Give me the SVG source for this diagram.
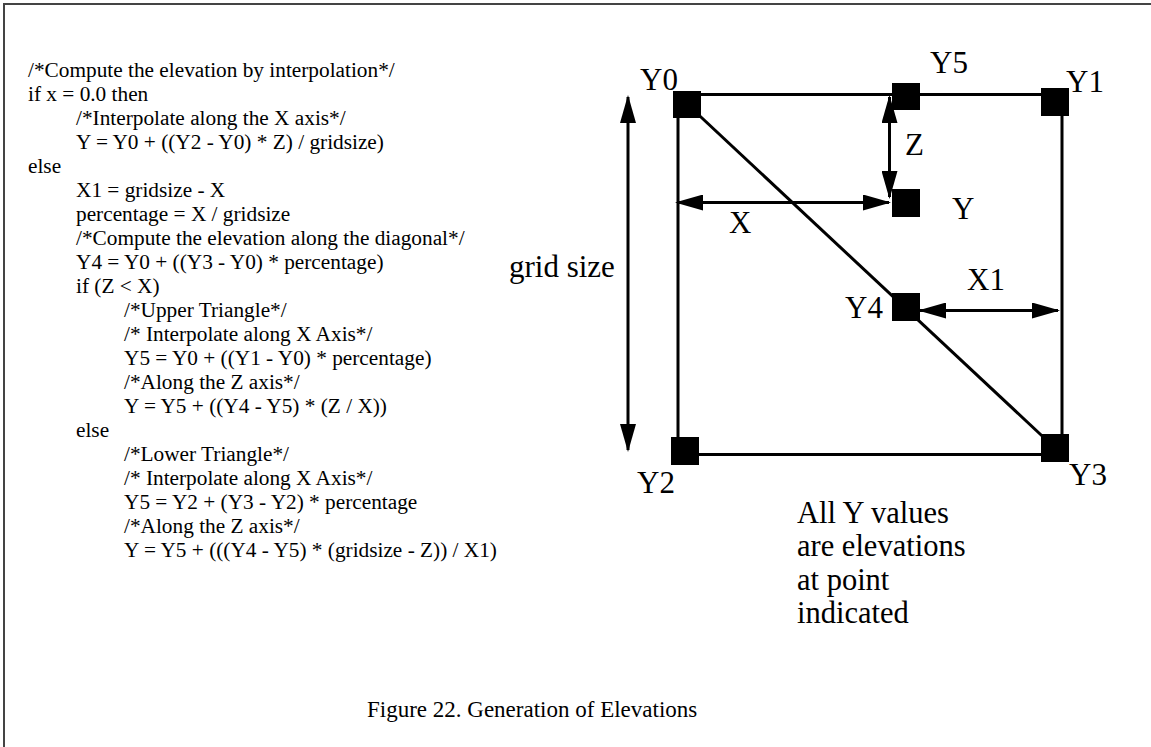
<svg xmlns="http://www.w3.org/2000/svg" width="1151" height="747" viewBox="0 0 1151 747">
  <style>
    .code { font-family: "Liberation Serif", Tinos, "Times New Roman", Times, "DejaVu Serif", serif; font-size: 21.3px; fill: #000; }
    .lbl { font-family: "Liberation Serif", Tinos, "Times New Roman", Times, "DejaVu Serif", serif; font-size: 31px; fill: #000; }
    .note { font-family: "Liberation Serif", Tinos, "Times New Roman", Times, "DejaVu Serif", serif; font-size: 30.5px; fill: #000; }
    .cap { font-family: "Liberation Serif", Tinos, "Times New Roman", Times, "DejaVu Serif", serif; font-size: 23px; fill: #000; }
    .ln { stroke: #000; stroke-width: 3; fill: none; }
    .arr { stroke: #000; stroke-width: 3; fill: none; marker-start: url(#ah); marker-end: url(#ah); }
    .sq { fill: #000; }
  </style>
  <defs>
    <marker id="ah" viewBox="0 0 28 16" refX="26" refY="8" markerWidth="28" markerHeight="16" markerUnits="userSpaceOnUse" orient="auto-start-reverse">
      <path d="M0,0 L28,8 L0,16 z" fill="#000"/>
    </marker>
  </defs>
  <rect x="0" y="0" width="1151" height="747" fill="#fff"/>
  <g id="frame" stroke="#444" stroke-width="2" fill="none">
    <line x1="3" y1="4" x2="1151" y2="4"/>
    <line x1="4" y1="3" x2="4" y2="747"/>
  </g>
  <g id="code" class="code">
    <text x="28" y="77">/*Compute the elevation by interpolation*/</text>
    <text x="28" y="101">if x = 0.0 then</text>
    <text x="76" y="125">/*Interpolate along the X axis*/</text>
    <text x="76" y="149">Y = Y0 + ((Y2 - Y0) * Z) / gridsize)</text>
    <text x="28" y="173">else</text>
    <text x="76" y="197">X1 = gridsize - X</text>
    <text x="76" y="221">percentage = X / gridsize</text>
    <text x="76" y="245">/*Compute the elevation along the diagonal*/</text>
    <text x="76" y="269">Y4 = Y0 + ((Y3 - Y0) * percentage)</text>
    <text x="76" y="293">if (Z &lt; X)</text>
    <text x="124" y="317">/*Upper Triangle*/</text>
    <text x="124" y="341">/* Interpolate along X Axis*/</text>
    <text x="124" y="365">Y5 = Y0 + ((Y1 - Y0) * percentage)</text>
    <text x="124" y="389">/*Along the Z axis*/</text>
    <text x="124" y="413">Y = Y5 + ((Y4 - Y5) * (Z / X))</text>
    <text x="76" y="437">else</text>
    <text x="124" y="461">/*Lower Triangle*/</text>
    <text x="124" y="485">/* Interpolate along X Axis*/</text>
    <text x="124" y="509">Y5 = Y2 + (Y3 - Y2) * percentage</text>
    <text x="124" y="533">/*Along the Z axis*/</text>
    <text x="124" y="557">Y = Y5 + (((Y4 - Y5) * (gridsize - Z)) / X1)</text>
  </g>
  <g id="connectors">
    <line class="ln" x1="687" y1="94.5" x2="1055" y2="94.5"/>
    <line class="ln" x1="678" y1="104" x2="678" y2="451"/>
    <line class="ln" x1="1062" y1="101" x2="1062" y2="448"/>
    <line class="ln" x1="685" y1="454.5" x2="1055" y2="454.5"/>
    <line class="ln" x1="687" y1="104" x2="1055" y2="448"/>
    <line class="arr" x1="628" y1="97" x2="628" y2="450"/>
    <line class="arr" x1="889.5" y1="97" x2="889.5" y2="197"/>
    <line class="arr" x1="677" y1="202.5" x2="889" y2="202.5"/>
    <line class="arr" x1="920" y1="310.5" x2="1058" y2="310.5"/>
  </g>
  <g id="node-Y0"><rect class="sq" x="673" y="91" width="28" height="27"/><text class="lbl" x="640" y="90">Y0</text></g>
  <g id="node-Y5"><rect class="sq" x="892" y="83" width="28" height="27"/><text class="lbl" x="930" y="73">Y5</text></g>
  <g id="node-Y1"><rect class="sq" x="1041" y="88" width="28" height="28"/><text class="lbl" x="1066" y="92">Y1</text></g>
  <g id="node-Y"><rect class="sq" x="892" y="189" width="28" height="28"/><text class="lbl" x="952" y="219">Y</text></g>
  <g id="node-Y4"><rect class="sq" x="892" y="293" width="28" height="28"/><text class="lbl" x="845" y="318">Y4</text></g>
  <g id="node-Y2"><rect class="sq" x="671" y="437" width="28" height="28"/><text class="lbl" x="637" y="493">Y2</text></g>
  <g id="node-Y3"><rect class="sq" x="1041" y="434" width="28" height="28"/><text class="lbl" x="1069" y="485">Y3</text></g>
  <g id="labels" class="lbl">
    <text x="905" y="155">Z</text>
    <text x="729" y="233">X</text>
    <text x="967" y="290">X1</text>
    <text x="509" y="277">grid size</text>
  </g>
  <g id="note" class="note">
    <text x="797" y="523">All Y values</text>
    <text x="797" y="556">are elevations</text>
    <text x="797" y="589.5">at point</text>
    <text x="797" y="623">indicated</text>
  </g>
  <g id="caption"><text class="cap" x="367" y="717">Figure 22. Generation of Elevations</text></g>
</svg>
